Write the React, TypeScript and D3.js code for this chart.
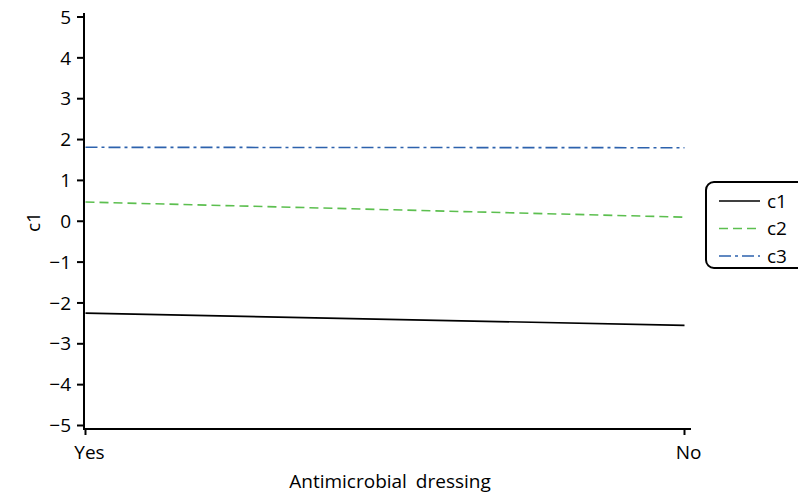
import React from "react";
import * as d3 from "d3";

const categories = ["Yes", "No"];
const seriesNames = ["c1", "c2", "c3"];
const c1Values = [-2.25, -2.55];
const c2Values = [0.47, 0.1];
const c3Values = [1.81, 1.8];
const yTicks = [-5, -4, -3, -2, -1, 0, 1, 2, 3, 4, 5];
const seriesColors = ["#000000", "#5cbf4f", "#2d62ad"];
const seriesDash = ["none", "9,5", "12,4,3,4"];

const W = 798, H = 497;
const FONT = "'Open Sans', 'Noto Sans', sans-serif";

export default function App() {
  const x = d3.scalePoint<string>().domain(categories).range([85.5, 684.5]);
  const y = d3.scaleLinear().domain([-5, 5]).range([425.5, 17]);
  const all = [c1Values, c2Values, c3Values];
  const line = d3.line<number>().x((_, i) => x(categories[i]) as number).y((d) => y(d));
  const fmt = (v: number) => (v < 0 ? "\u2212" + Math.abs(v) : String(v));
  return (
    <svg width={W} height={H} style={{ position: "absolute", left: 0, top: 0, background: "#fff" }} fontFamily={FONT}>
      {/* y axis */}
      <line x1={84} x2={84} y1={13} y2={429} stroke="#000" strokeWidth={2} />
      {yTicks.map((t) => (
        <g key={t}>
          <line x1={77} x2={84} y1={y(t)} y2={y(t)} stroke="#000" strokeWidth={2} />
          <text x={71} y={y(t)} dy="0.35em" textAnchor="end" fontSize={19} fill="#000">{fmt(t)}</text>
        </g>
      ))}
      {/* x axis */}
      <line x1={83} x2={691} y1={429} y2={429} stroke="#000" strokeWidth={2} />
      {categories.map((c) => (
        <g key={c}>
          <line x1={x(c)} x2={x(c)} y1={429} y2={435} stroke="#000" strokeWidth={2} />
          <text x={(x(c) as number) + 4} y={459} textAnchor="middle" fontSize={19} fill="#000">{c}</text>
        </g>
      ))}
      <text x={390} y={488} textAnchor="middle" fontSize={19} fill="#000" wordSpacing={4}>Antimicrobial dressing</text>
      <text transform="translate(40,222) rotate(-90)" textAnchor="middle" fontSize={19} fill="#000">c1</text>
      {/* series */}
      {all.map((vals, i) => (
        <path key={i} d={line(vals) || ""} fill="none" stroke={seriesColors[i]} strokeWidth={1.6}
          strokeDasharray={seriesDash[i] === "none" ? undefined : seriesDash[i]} />
      ))}
      {/* legend */}
      <rect x={706} y={182} width={110} height={86} rx={8} ry={8} fill="#fff" stroke="#000" strokeWidth={2} />
      {seriesNames.map((n, i) => (
        <g key={n}>
          <line x1={719} x2={760} y1={201 + i * 27.5} y2={201 + i * 27.5} stroke={seriesColors[i]} strokeWidth={1.6}
            strokeDasharray={seriesDash[i] === "none" ? undefined : seriesDash[i]} />
          <text x={767} y={201 + i * 27.5} dy="0.35em" fontSize={19} fill="#000">{n}</text>
        </g>
      ))}
    </svg>
  );
}
